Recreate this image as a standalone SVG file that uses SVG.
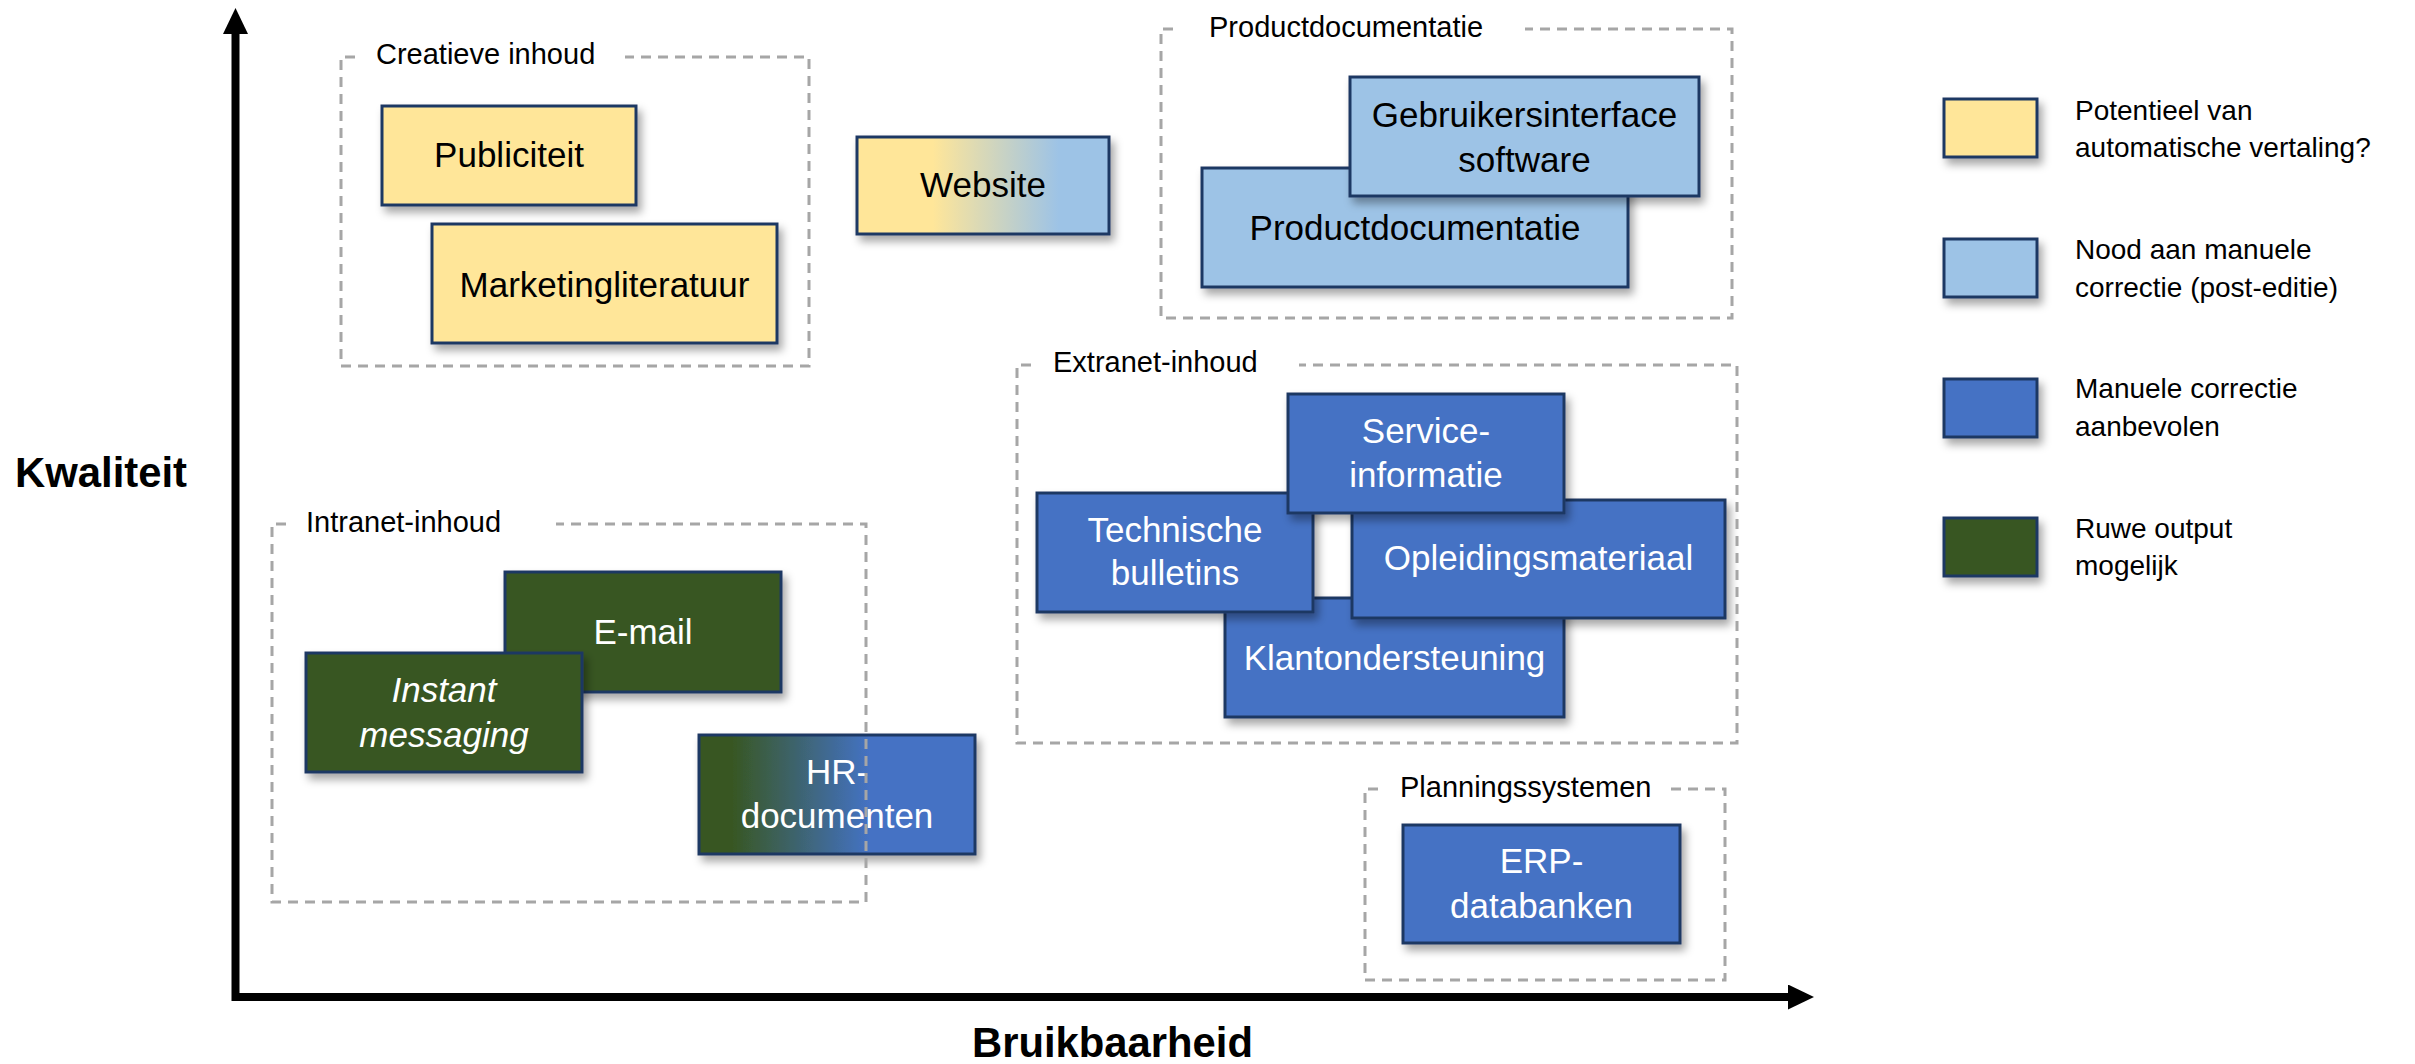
<svg xmlns="http://www.w3.org/2000/svg" width="2415" height="1064" viewBox="0 0 2415 1064">
<defs>
<style>
.node{stroke:#1F3864;stroke-width:3;filter:url(#sh)}
.y{fill:#FFE699}.lb{fill:#9DC3E6}.b{fill:#4472C4}.g{fill:#385723}
.t{font-family:"Liberation Sans",Arial,sans-serif;font-size:35px;text-anchor:middle}
.dk{fill:#000}.wh{fill:#fff}
.grp{fill:none;stroke:#A6A6A6;stroke-width:3;stroke-dasharray:10 7}
.gl{font-family:"Liberation Sans",Arial,sans-serif;font-size:29px;fill:#000}
.lg{font-family:"Liberation Sans",Arial,sans-serif;font-size:28px;fill:#000}
.ax{stroke:#000;stroke-width:8;fill:none}
.axl{font-family:"Liberation Sans",Arial,sans-serif;font-size:42px;font-weight:bold;fill:#000}
</style>
<filter id="sh" x="-10%" y="-10%" width="130%" height="140%">
<feDropShadow dx="4" dy="6" stdDeviation="4" flood-color="#000" flood-opacity="0.35"/>
</filter>
<linearGradient id="gWeb" x1="0" y1="0" x2="1" y2="0">
<stop offset="0.3" stop-color="#FFE699"/>
<stop offset="0.8" stop-color="#9DC3E6"/>
</linearGradient>
<linearGradient id="gHR" x1="0" y1="0" x2="1" y2="0">
<stop offset="0.12" stop-color="#385723"/>
<stop offset="0.62" stop-color="#4472C4"/>
</linearGradient>
<marker id="arr" markerUnits="userSpaceOnUse" markerWidth="26" markerHeight="26" refX="2" refY="12.5" orient="auto">
<path d="M0,0 L26,12.5 L0,25 Z" fill="#000"/>
</marker>
</defs>

<g id="axes">
<path class="ax" d="M235.5,1001 V32" marker-end="url(#arr)"/>
<path class="ax" d="M232,997 H1790" marker-end="url(#arr)"/>
<text class="axl" x="15" y="487" textLength="172" lengthAdjust="spacingAndGlyphs">Kwaliteit</text>
<text class="axl" x="972" y="1057" textLength="281" lengthAdjust="spacingAndGlyphs">Bruikbaarheid</text>
</g>

<g id="connectors"></g>

<g id="node-publiciteit"><rect class="node y" x="382" y="106" width="254" height="99"/><text class="t dk" x="509" y="167">Publiciteit</text></g>
<g id="node-marketing"><rect class="node y" x="432" y="224" width="345" height="119"/><text class="t dk" x="604.5" y="297">Marketingliteratuur</text></g>
<g id="node-website"><rect class="node" fill="url(#gWeb)" x="857" y="137" width="252" height="97"/><text class="t dk" x="983" y="197">Website</text></g>

<g id="node-productdoc"><rect class="node lb" x="1202" y="168" width="426" height="119"/><text class="t dk" x="1415" y="240">Productdocumentatie</text></g>
<g id="node-gui"><rect class="node lb" x="1350" y="77" width="349" height="119"/><text class="t dk" x="1524.5" y="127">Gebruikersinterface</text><text class="t dk" x="1524.5" y="172">software</text></g>

<g id="node-klant"><rect class="node b" x="1225" y="598" width="339" height="119"/><text class="t wh" x="1394.5" y="670">Klantondersteuning</text></g>
<g id="node-technische"><rect class="node b" x="1037" y="493" width="276" height="119"/><text class="t wh" x="1175" y="542">Technische</text><text class="t wh" x="1175" y="585">bulletins</text></g>
<g id="node-opleiding"><rect class="node b" x="1352" y="500" width="373" height="118"/><text class="t wh" x="1538.5" y="570">Opleidingsmateriaal</text></g>
<g id="node-service"><rect class="node b" x="1288" y="394" width="276" height="119"/><text class="t wh" x="1426" y="443">Service-</text><text class="t wh" x="1426" y="487">informatie</text></g>

<g id="node-email"><rect class="node g" x="505" y="572" width="276" height="120"/><text class="t wh" x="643" y="644">E-mail</text></g>
<g id="node-im"><rect class="node g" x="306" y="653" width="276" height="119"/><text class="t wh" x="444" y="702" font-style="italic">Instant</text><text class="t wh" x="444" y="747" font-style="italic">messaging</text></g>
<g id="node-hr"><rect class="node" fill="url(#gHR)" x="699" y="735" width="276" height="119"/><text class="t wh" x="837" y="784">HR-</text><text class="t wh" x="837" y="828">documenten</text></g>

<g id="node-erp"><rect class="node b" x="1403" y="825" width="277" height="118"/><text class="t wh" x="1541.5" y="873">ERP-</text><text class="t wh" x="1541.5" y="918">databanken</text></g>

<g id="group-creatieve"><path class="grp" d="M355,57 H341 V366 H809 V57 H625"/><text class="gl" x="376" y="64">Creatieve inhoud</text></g>
<g id="group-productdoc"><path class="grp" d="M1173,29 H1161 V318 H1732 V29 H1525"/><text class="gl" x="1209" y="37">Productdocumentatie</text></g>
<g id="group-extranet"><path class="grp" d="M1031,365 H1017 V743 H1737 V365 H1299"/><text class="gl" x="1053" y="372">Extranet-inhoud</text></g>
<g id="group-intranet"><path class="grp" d="M286,524 H272 V902 H866 V524 H556"/><text class="gl" x="306" y="532">Intranet-inhoud</text></g>
<g id="group-planning"><path class="grp" d="M1378,789 H1365 V980 H1725 V789 H1670"/><text class="gl" x="1400" y="797">Planningssystemen</text></g>

<g id="legend">
<g id="legend-1"><rect class="node y" x="1944" y="99" width="93" height="58"/><text class="lg" x="2075" y="120">Potentieel van</text><text class="lg" x="2075" y="157">automatische vertaling?</text></g>
<g id="legend-2"><rect class="node lb" x="1944" y="239" width="93" height="58"/><text class="lg" x="2075" y="259">Nood aan manuele</text><text class="lg" x="2075" y="297">correctie (post-editie)</text></g>
<g id="legend-3"><rect class="node b" x="1944" y="379" width="93" height="58"/><text class="lg" x="2075" y="398">Manuele correctie</text><text class="lg" x="2075" y="436">aanbevolen</text></g>
<g id="legend-4"><rect class="node g" x="1944" y="518" width="93" height="58"/><text class="lg" x="2075" y="538">Ruwe output</text><text class="lg" x="2075" y="575">mogelijk</text></g>
</g>
</svg>
